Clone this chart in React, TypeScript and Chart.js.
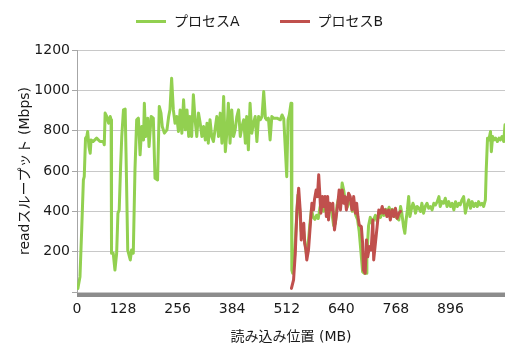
import React, { useEffect, useRef } from 'react';
import { Chart, registerables } from 'chart.js';

Chart.register(...registerables);

const FONT = "'DejaVu Sans', 'Noto Sans CJK JP', sans-serif";

const seriesNames = ['プロセスA', 'プロセスB'];
const seriesColors = ['#92D050', '#C0504D'];
const xAxisTitle = '読み込み位置 (MB)';
const yAxisTitle = 'readスループット (Mbps)';
const xAxisStart = 20;
const xAxisEnd = 1024;
const xTickLabels = ['0', '128', '256', '384', '512', '640', '768', '896'];
const xTickValues = [0, 128, 256, 384, 512, 640, 768, 896];
const yMax = 1200;
const yStep = 200;

const processA_MB = [
  22, 27, 31, 35, 37, 40, 43, 45, 48, 51, 53, 58, 66, 74, 82, 84, 86, 90, 94, 98, 100, 101, 105, 109, 113, 116, 119, 122, 125, 129, 133, 135, 139, 145, 148, 152, 156, 160, 164, 168, 172, 176, 178, 181, 186, 189, 194, 199, 203, 209, 213, 217, 220, 225, 231, 235, 238, 242, 246, 250, 254, 258,
  262, 266, 270, 274, 278, 282, 285, 289, 293, 297, 301, 305, 309, 313, 317, 321, 325, 328, 332, 336, 340, 348, 352, 356, 360, 364, 368, 372, 375, 379, 383, 387, 391, 395, 399, 403, 407, 411, 415, 418, 422, 426, 430, 434, 438, 442, 446, 450, 454, 458, 462, 465, 469, 473, 477, 481, 489, 497, 501, 505, 512, 515, 518, 522, 524, 526,
  530, 534, 538, 542, 546, 550, 554, 558, 562, 566, 570, 574, 578, 582, 586, 590, 594, 598, 602, 606, 610, 614, 618, 622, 626, 630, 634, 638, 642, 646, 650, 654, 658, 662, 666, 670, 674, 678, 682, 686, 690, 694, 698, 700, 704, 708, 712, 716, 720, 724, 728, 732, 736, 740, 744, 748, 752, 756, 760, 764,
  767, 775, 779, 782, 786, 789, 792, 795, 798, 801, 804, 808, 811, 814, 818, 822, 826, 829, 833, 837, 841, 845, 849, 853, 857, 861, 865, 869, 872, 876, 880, 884, 888, 892, 896, 900, 904, 908, 912, 916, 919, 923, 927, 931, 935, 939, 943, 947, 951, 955, 959, 962, 966, 970, 974, 978, 980, 983, 986, 990, 992, 995, 998, 1002, 1006, 1010, 1013, 1017, 1021, 1024,
];
const processA_Mbps = [
  18, 76, 308, 556, 572, 763, 771, 796, 721, 688, 754, 746, 763, 746, 746, 730, 887, 870, 837, 870, 854, 192, 192, 109, 192, 390, 407, 606, 771, 903, 907, 688, 208, 159, 208, 192, 606, 854, 862, 680, 821, 754, 936, 771, 862, 721, 870, 862, 564, 556, 920, 887, 821, 788, 804, 870, 903, 1060, 903, 837, 870, 796,
  903, 787, 953, 804, 903, 771, 870, 771, 978, 854, 771, 887, 837, 771, 821, 754, 837, 738, 854, 771, 746, 870, 771, 887, 738, 969, 696, 804, 936, 738, 903, 771, 804, 870, 903, 771, 821, 854, 738, 870, 705, 936, 787, 837, 870, 746, 870, 854, 870, 994, 862, 854, 862, 754, 870, 862, 862, 854, 878, 860, 572, 854, 878, 936, 109, 93,
  160, 330, 480, 420, 300, 330, 260, 190, 230, 330, 410, 370, 360, 380, 365, 420, 450, 400, 430, 380, 400, 420, 390, 330, 340, 430, 470, 430, 540, 500, 440, 420, 460, 440, 400, 430, 380, 360, 300, 200, 100, 93, 93, 180, 330, 370, 340, 360, 380, 350, 390, 370, 400, 380, 410, 390, 420, 400, 410, 390,
  374, 357, 424, 391, 324, 291, 357, 407, 473, 374, 407, 440, 424, 391, 424, 415, 399, 440, 391, 424, 440, 415, 424, 407, 440, 432, 448, 473, 424, 448, 440, 465, 424, 448, 424, 440, 407, 448, 424, 440, 432, 457, 473, 391, 432, 457, 415, 448, 424, 440, 424, 448, 432, 440, 424, 457, 606, 763, 754, 796, 696, 771, 754, 763, 746, 763, 754, 771, 746, 829,
];

const processB_MB = [
  523, 528, 532, 536, 540, 544, 546, 549, 552, 554, 557, 559, 563, 567, 571, 575, 577, 581, 584, 587, 589, 592, 596, 599, 602, 605, 608, 610, 613, 617, 620, 624, 628, 632, 635, 638, 642, 646, 649, 652, 654, 657, 661, 665, 669, 673, 676, 679, 682, 687, 690, 692, 696, 699, 702, 706, 710, 714, 716, 720, 724, 728, 732, 736, 739, 743, 747, 751, 755, 759, 763, 767, 771, 775, 779,
];
const processB_Mbps = [
  18, 60, 192, 407, 515, 391, 258, 308, 341, 242, 208, 159, 208, 324, 440, 407, 457, 506, 473, 581, 506, 391, 473, 424, 473, 374, 473, 357, 440, 407, 440, 308, 374, 440, 506, 407, 506, 440, 473, 407, 440, 490, 473, 407, 473, 391, 440, 374, 333, 324, 242, 109, 93, 258, 175, 225, 208, 357, 159, 242, 324, 407, 391, 424, 391, 407, 374, 407, 357, 407, 374, 415, 366, 390, 400,
];

const toPoints = (xs: number[], ys: number[]) => xs.map((x, i) => ({ x, y: ys[i] }));

const baselineBar = {
  id: 'baselineBar',
  beforeDatasetsDraw(chart: any) {
    const { ctx, chartArea } = chart;
    ctx.save();
    ctx.fillStyle = '#8c8c8c';
    ctx.fillRect(chartArea.left, chartArea.bottom + 1, chartArea.right - chartArea.left, 4);
    ctx.restore();
  },
};

export default function App() {
  const ref = useRef<HTMLCanvasElement>(null);

  useEffect(() => {
    if (!ref.current) return;
    const chart = new Chart(ref.current, {
      type: 'line',
      data: {
        datasets: [
          {
            label: seriesNames[0],
            data: toPoints(processA_MB, processA_Mbps),
            borderColor: seriesColors[0],
            backgroundColor: seriesColors[0],
            borderWidth: 3,
            pointRadius: 0,
            tension: 0,
            fill: false,
            borderJoinStyle: 'round',
            borderCapStyle: 'round',
            order: 2,
          },
          {
            label: seriesNames[1],
            data: toPoints(processB_MB, processB_Mbps),
            borderColor: seriesColors[1],
            backgroundColor: seriesColors[1],
            borderWidth: 3,
            pointRadius: 0,
            tension: 0,
            fill: false,
            borderJoinStyle: 'round',
            borderCapStyle: 'round',
            order: 1,
          },
        ],
      },
      options: {
        responsive: false,
        animation: false,
        layout: { padding: { top: 50, left: 0, right: 0, bottom: 0 } },
        plugins: {
          legend: { display: false },
          tooltip: { enabled: false },
          filler: { propagate: false },
        },
        scales: {
          x: {
            type: 'linear',
            min: xAxisStart,
            max: xAxisEnd,
            afterFit: (s: any) => {
              s.height = 52;
            },
            afterBuildTicks: (s: any) => {
              s.ticks = xTickValues.map((v) => ({ value: Math.max(v, xAxisStart) }));
            },
            grid: { display: false, drawTicks: false },
            border: { display: false },
            ticks: {
              autoSkip: false,
              maxRotation: 0,
              padding: 9,
              color: '#1a1a1a',
              font: { family: FONT, size: 14 },
              callback: (_v: any, i: number) => xTickLabels[i],
            },
            title: {
              display: true,
              text: xAxisTitle,
              color: '#1a1a1a',
              font: { family: FONT, size: 14 },
              padding: { top: 0, bottom: -2 },
            },
          },
          y: {
            min: 0,
            max: yMax,
            afterFit: (s: any) => {
              s.width = 77;
            },
            ticks: {
              stepSize: yStep,
              padding: 2,
              color: '#1a1a1a',
              font: { family: FONT, size: 14 },
              callback: (v: any) => (v === 0 ? '' : String(v)),
            },
            grid: {
              color: '#c8c8c8',
              tickColor: '#a6a6a6',
              tickLength: 5,
              lineWidth: 1,
            },
            border: { display: true, color: '#a6a6a6', width: 1 },
            title: {
              display: true,
              text: yAxisTitle,
              color: '#1a1a1a',
              font: { family: FONT, size: 14 },
              padding: { top: 17, bottom: 0 },
            },
          },
        },
      },
      plugins: [baselineBar],
    } as any);
    return () => chart.destroy();
  }, []);

  const legendText: React.CSSProperties = { fontFamily: FONT, fontSize: 14, color: '#1a1a1a', lineHeight: '18px' };

  return (
    <div style={{ position: 'absolute', left: 0, top: 0, width: 505, height: 344, background: '#fff' }}>
      <canvas ref={ref} width={505} height={344} style={{ display: 'block' }} />
      <div style={{ position: 'absolute', top: 12, left: 136, display: 'flex', alignItems: 'center', height: 18 }}>
        {seriesNames.map((name, i) => (
          <div key={name} style={{ display: 'flex', alignItems: 'center', marginRight: i === 0 ? 40 : 0 }}>
            <span style={{ display: 'inline-block', width: 30, height: 3, background: seriesColors[i], marginRight: 8 }} />
            <span style={legendText}>{name}</span>
          </div>
        ))}
      </div>
    </div>
  );
}
